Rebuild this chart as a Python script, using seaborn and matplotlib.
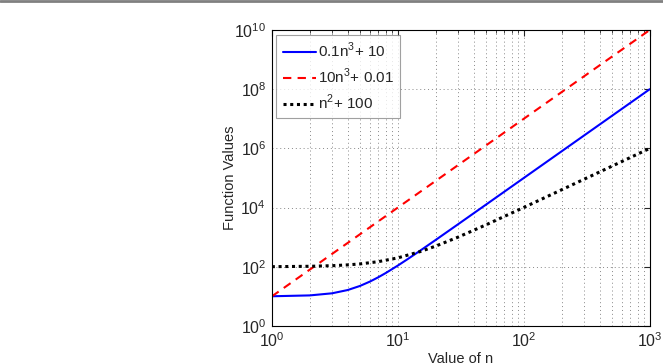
import numpy as np
import pandas as pd
import seaborn as sns
import matplotlib.pyplot as plt
from matplotlib.ticker import LogLocator, FixedLocator, NullFormatter

# valores (escala log-log)
n_cubic = [1, 2, 3, 4, 5, 6, 7, 8, 10, 12, 15, 20, 30, 50, 100, 200, 500, 1000]
y_cubic_small = [10.1, 10.8, 12.7, 16.4, 22.5, 31.6, 44.3, 61.2, 110, 183, 347.5,
                 810, 2710, 12510, 100010, 800010, 12500010, 100000010]

n_big = [1, 10, 100, 1000]
y_cubic_big = [10.01, 10000.01, 10000000.01, 10000000000.01]

n_square = [1, 2, 3, 4, 5, 7, 10, 15, 20, 30, 50, 100, 200, 500, 1000]
y_square = [101, 104, 109, 116, 125, 149, 200, 325, 500, 1000, 2600, 10100,
            40100, 250100, 1000100]

labels = ["0.1n$^3$+ 10", "10n$^3$+ 0.01", "n$^2$+ 100"]
colores = ["#0000ff", "#ff0000", "#000000"]

sns.set_style("white")
plt.rcParams["font.family"] = ["Liberation Sans", "DejaVu Sans"]
plt.rcParams["mathtext.fontset"] = "custom"
plt.rcParams["mathtext.rm"] = "Liberation Sans"

fig = plt.figure(figsize=(6.63, 3.64), dpi=100)
ax = fig.add_axes([0.410, 0.1044, 0.570, 0.8132])

df1 = pd.DataFrame({"n": n_cubic, "y": y_cubic_small})
df2 = pd.DataFrame({"n": n_big, "y": y_cubic_big})
df3 = pd.DataFrame({"n": n_square, "y": y_square})

sns.lineplot(data=df1, x="n", y="y", ax=ax, color=colores[0], lw=1.5, label=labels[0])
sns.lineplot(data=df2, x="n", y="y", ax=ax, color=colores[1], lw=1.5,
             linestyle=(0, (4, 3)), label=labels[1])
sns.lineplot(data=df3, x="n", y="y", ax=ax, color=colores[2], lw=2.2,
             linestyle=(0, (1, 1.2)), label=labels[2])

ax.set_xscale("log")
ax.set_yscale("log")
ax.set_xlim(1, 1000)
ax.set_ylim(1, 1e10)

ax.yaxis.set_major_locator(FixedLocator([1e0, 1e2, 1e4, 1e6, 1e8, 1e10]))
ax.yaxis.set_minor_locator(FixedLocator([]))
ax.xaxis.set_major_locator(LogLocator(base=10))
ax.xaxis.set_minor_locator(LogLocator(base=10, subs=np.arange(2, 10)))
ax.xaxis.set_minor_formatter(NullFormatter())

ax.grid(True, which="major", axis="both", color="#888888", ls=(0, (1, 3)), lw=0.7)
ax.grid(True, which="minor", axis="x", color="#888888", ls=(0, (1, 3)), lw=0.7)

ax.tick_params(which="both", direction="in", top=True, right=True, labelsize=11.5, pad=4)
ax.tick_params(which="major", length=4)
ax.tick_params(which="minor", length=2)
for s in ax.spines.values():
    s.set_color("black")
    s.set_linewidth(0.8)

ax.set_xlabel("Value of n", fontsize=10.5, labelpad=1)
ax.set_ylabel("Function Values", fontsize=10.5, labelpad=-2)

leg = ax.legend(loc="upper left", fontsize=11, frameon=True, fancybox=False,
                edgecolor="#888888", handlelength=2.2, handletextpad=0.1,
                borderaxespad=0.3, labelspacing=0.45, borderpad=0.4)
leg.get_frame().set_linewidth(0.8)

# linea gris superior
fig.add_artist(plt.Line2D([0, 1], [0.996, 0.996], color="#808080", lw=2,
                          transform=fig.transFigure))

fig.savefig("out.png", dpi=100)
